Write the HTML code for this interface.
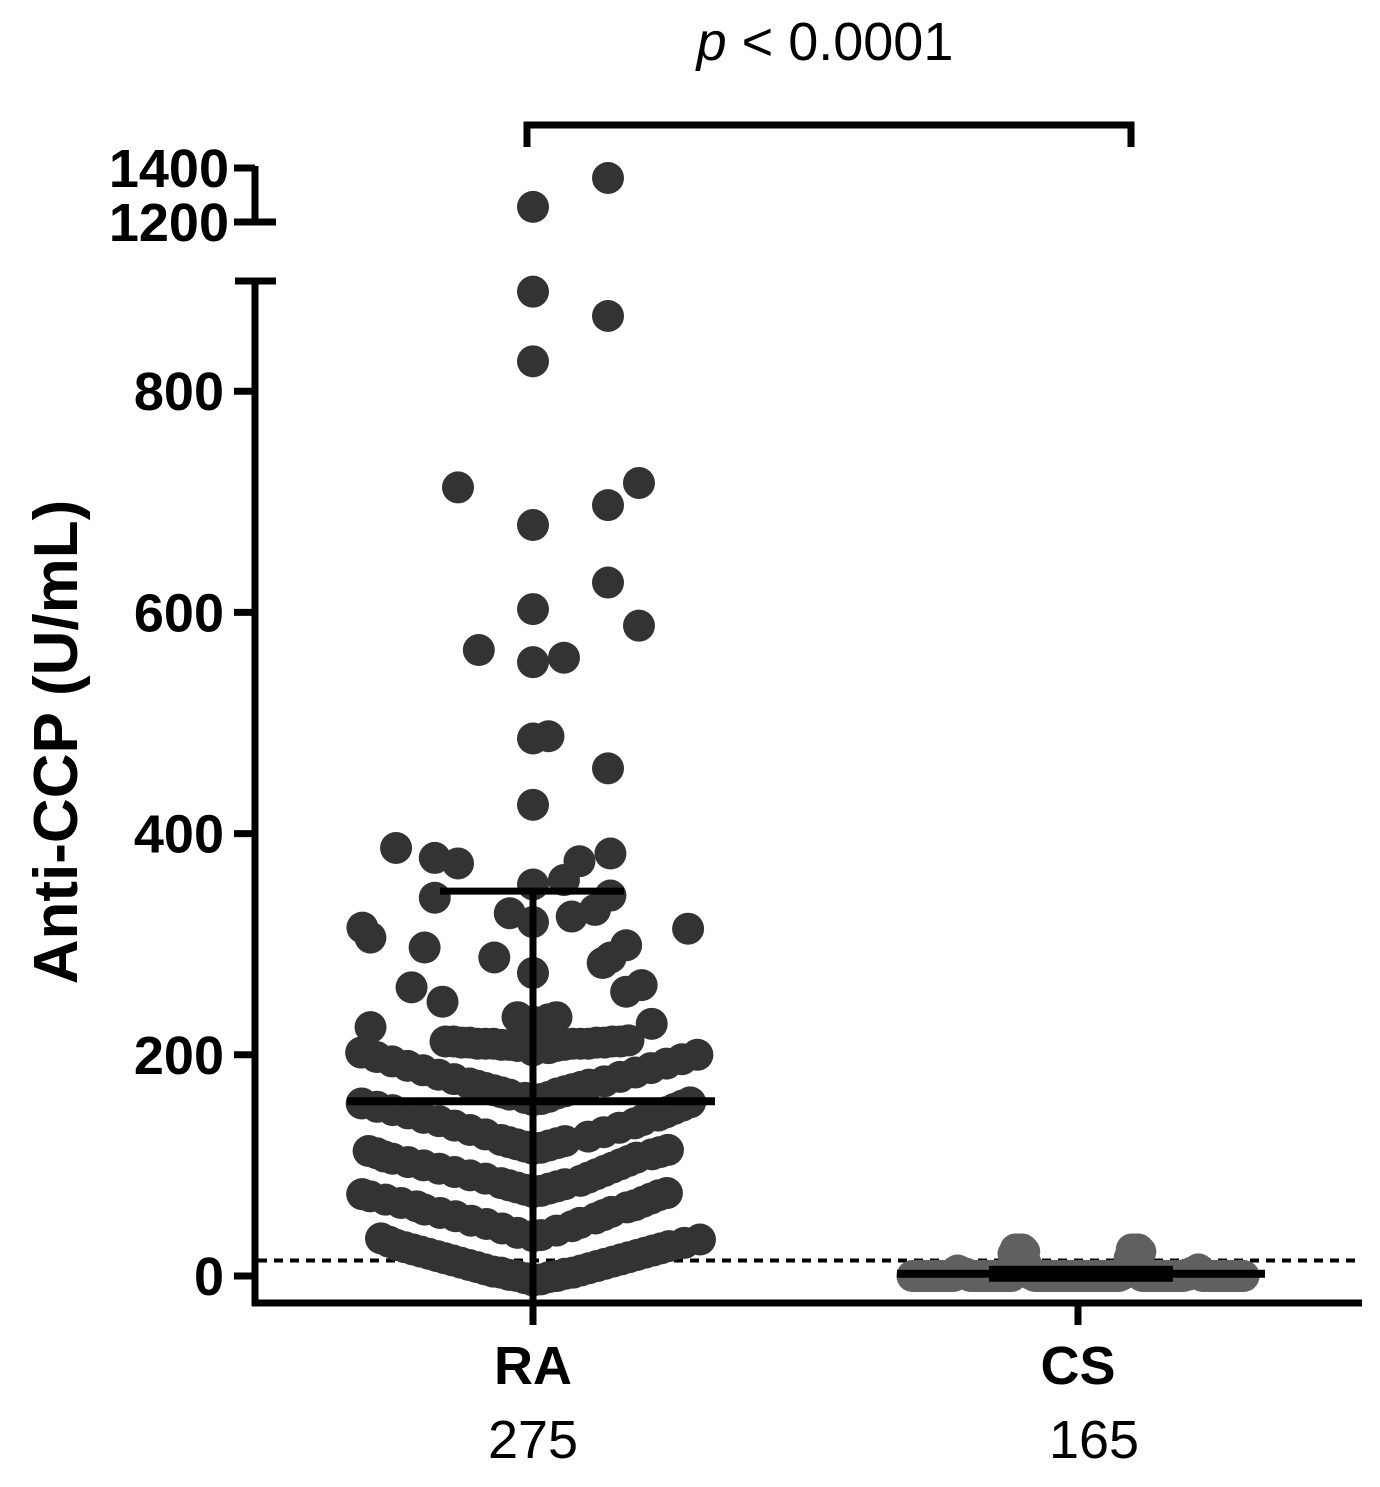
<!DOCTYPE html>
<html><head><meta charset="utf-8"><style>
body{margin:0;background:#fff}
svg text{font-family:"Liberation Sans",Arial,sans-serif}
</style></head><body>
<svg id="chart" width="1380" height="1482" viewBox="0 0 1380 1482" xmlns="http://www.w3.org/2000/svg">
<g id="axes"></g>
<g id="marks"></g>
<g id="stats"></g>
</svg>
<script>
const categories = ["RA", "CS"];
const counts = ["275", "165"];
const lowTicks = [0, 200, 400, 600, 800];
const highTicks = [1200, 1400];
const raValues = [-4,-3,-2,-1,0,0,1,2,3,3,4,5,6,7,8,9,10,11,12,13,14,15,16,17,18,19,20,21,22,23,24,25,26,27,28,30,31,33,34,36,37,39,41,43,
45,47,48,50,52,54,55,57,58,60,62,63,64,66,67,69,70,72,73,74,75,76,77,78,79,80,81,82,83,84,
86,88,89,91,92,94,95,97,98,100,101,103,104,106,107,108,110,111,112,113,114,115,116,117,118,119,120,121,122,123,
126,128,130,132,134,136,138,140,141,143,145,147,148,150,151,153,154,156,157,159,160,161,162,164,165,166,167,168,169,170,171,172,173,174,
176,178,180,182,184,186,188,190,192,194,196,198,200,202,204,206,
208,208,209,209,209,210,210,210,210,210,210,211,211,211,211,212,212,212,212,213,
225,228,230,232,234,234,248,257,261,263,274,283,288,288,297,299,306,314,315,320,325,328,331,342,344,354,358,373,375,378,382,387,
426,459,486,488,555,559,566,588,603,627,679,697,713,717,827,868,890,1256,1363];
const csValues = [0,0,0,0,0,0,0,0,0,0,0,0,0,0,0,0,0,0,0,0,0,0,0,0,0,0,0,0,0,0,0,0,0,0,0,0,0,0,0,0,
1,1,2,2,3,4,6,10,16,22,24,24,24,24,24,24,24,24,22,20,
0,0,0,0,0,0,0,0,0,0,0,0,0,0,0,0,0,0,0,0,0,0,0,0,0,0,0,0,0,0,0,0,0,0,0,0,0,0,0,0,
1,1,1,2,2,2,3,3,3,4,4,5,6,2,1,0,0,0,0,0,0,0,0,0,0,0,0,0,0,0,
0,0,0,0,0,0,0,0,0,0,0,0,0,0,0,0,0,0,0,0,0,0,0,0,0];
const raMean = [158];
const raSD = [348];
const csMean = [2];
const csSD = [6];
const cutoff = [14];
const pText = ["< 0.0001"];

const NS="http://www.w3.org/2000/svg";
const xCenter = {RA:533, CS:1078};
function yScale(v){ return v<=1000 ? 1276 - v*1.106 : 222 - (v-1200)*0.27; }
function el(tag, attrs, parent, txt){ const e=document.createElementNS(NS,tag); for(const k in attrs) e.setAttribute(k,attrs[k]); if(txt!==undefined) e.textContent=txt; parent.appendChild(e); return e; }
const axes=document.getElementById('axes'), marks=document.getElementById('marks'), stats=document.getElementById('stats');
const SW=7, FS=54;

let a=el('line',{x1:255,y1:281,x2:255,y2:1306,stroke:'#000','stroke-width':SW},axes);


a=el('line',{x1:235,y1:281,x2:276,y2:281,stroke:'#000','stroke-width':SW},axes);


a=el('line',{x1:255,y1:166,x2:255,y2:222,stroke:'#000','stroke-width':SW},axes);


a=el('line',{x1:234,y1:222,x2:276,y2:222,stroke:'#000','stroke-width':SW},axes);


lowTicks.forEach(t=>{
  const y=yScale(t);
  const l=el('line',{x1:234,y1:y,x2:255,y2:y,stroke:'#000','stroke-width':SW},axes);
  
  
  const tx=el('text',{x:224,y:y+19,'text-anchor':'end','font-size':FS,'font-weight':'bold'},axes,String(t));
  
  
});
highTicks.forEach(t=>{
  const y=yScale(t);
  const l=el('line',{x1:234,y1:y,x2:255,y2:y,stroke:'#000','stroke-width':SW},axes);
  
  
  const tx=el('text',{x:229,y:y+19,'text-anchor':'end','font-size':FS,'font-weight':'bold'},axes,String(t));
  
  
});
a=el('line',{x1:252,y1:1303,x2:1362,y2:1303,stroke:'#000','stroke-width':SW},axes);


categories.forEach((c,i)=>{
  const x=xCenter[c];
  const l=el('line',{x1:x,y1:1303,x2:x,y2:1325,stroke:'#000','stroke-width':SW},axes);
  
  
  const tx=el('text',{x:x,y:1384,'text-anchor':'middle','font-size':FS,'font-weight':'bold'},axes,c);
  
  
  const tn=el('text',{x:x+(i?16:0),y:1458,'text-anchor':'middle','font-size':FS},axes,counts[i]);
  
  
});
a=el('text',{x:0,y:0,'text-anchor':'middle','font-size':62,'font-weight':'bold',transform:'translate(77,742) rotate(-90)'},axes,'Anti-CCP (U/mL)');



a=el('line',{x1:258,y1:yScale(cutoff[0]),x2:1362,y2:yScale(cutoff[0]),stroke:'#000','stroke-width':4,'stroke-dasharray':'9,7'},axes);



// RA banded swarm (sorted; alternate sides; reset to centre each band)
const R=16, MAXOFF=172, BAND=50;
const sorted=raValues.slice().sort((p,q)=>p-q);
let bandY=null, offR=0, offL=0, side=1, prevY=null;
sorted.forEach(v=>{
  const y=yScale(v);
  const gap = prevY===null ? 0 : prevY-y;
  const step = gap<2.2 ? 8 : Math.min(75, 7*gap);
  let off;
  let next = side>0 ? offR+step : offL+step;
  if(bandY===null || bandY-y>=BAND || next>MAXOFF){
    bandY=y; offR=0; offL=0; side=1; off=0;
  } else {
    if(side>0){ offR=next; off=offR; } else { offL=next; off=-offL; }
    side=-side;
  }
  prevY=y;
  const c=el('circle',{cx:xCenter.RA+off,cy:y,r:R,fill:'#333'},marks);
  
  
});

// CS points (compact)
csValues.forEach((v,i)=>{
  const off=(i%2?-1:1)*Math.ceil(i/2)*2.15;
  const c=el('circle',{cx:xCenter.CS+off,cy:yScale(v),r:R,fill:'#606060'},marks);
  
  
});

let s=el('line',{x1:xCenter.RA,y1:yScale(raSD[0]),x2:xCenter.RA,y2:1303,stroke:'#000','stroke-width':SW},stats);


s=el('line',{x1:440,y1:yScale(raSD[0]),x2:624,y2:yScale(raSD[0]),stroke:'#000','stroke-width':SW},stats);


s=el('line',{x1:347,y1:yScale(raMean[0]),x2:715,y2:yScale(raMean[0]),stroke:'#000','stroke-width':8},stats);


s=el('line',{x1:897,y1:yScale(csMean[0]),x2:1265,y2:yScale(csMean[0]),stroke:'#000','stroke-width':8},stats);


s=el('rect',{x:989,y:yScale(csMean[0])-8,width:184,height:16,fill:'#000'},stats);



s=el('path',{d:'M527,147 L527,125 L1131,125 L1131,147',fill:'none',stroke:'#000','stroke-width':7},stats);


const pt=el('text',{x:825,y:60,'text-anchor':'middle','font-size':FS},stats);


el('tspan',{'font-style':'italic'},pt,'p');
el('tspan',{},pt,' '+pText[0]);
</script>
</body></html>
